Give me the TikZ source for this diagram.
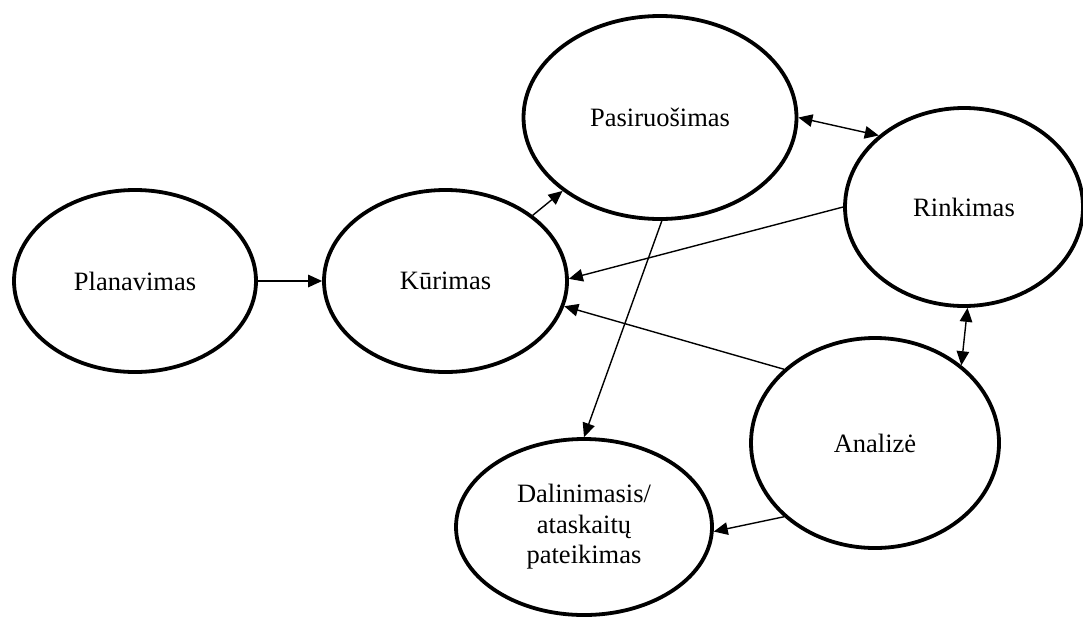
\documentclass[tikz,border=0pt]{standalone}
\usepackage{fontspec}
\setmainfont{Liberation Serif}
\usetikzlibrary{shapes.geometric,arrows.meta}
\tikzset{
  stage/.style={draw, ellipse, line width=3.8pt, inner sep=0pt, align=center,
    font=\fontsize{26.5}{30.5}\selectfont},
  conn/.style={line width=1.4pt, -{Triangle[length=14pt,width=12.5pt]}},
  biconn/.style={line width=1.4pt, {Triangle[length=14pt,width=12.5pt]}-{Triangle[length=14pt,width=12.5pt]}}
}
\begin{document}
\begin{tikzpicture}[x=1pt,y=-1pt]
\useasboundingbox (0,0) rectangle (1083,619);
\node[stage, minimum width=242pt, minimum height=182pt] (pla) at (135,281) {Planavimas};
\node[stage, minimum width=243pt, minimum height=182pt] (kur) at (445.5,281) {Kūrimas};
\node[stage, minimum width=273pt, minimum height=203pt] (pas) at (660,117.5) {Pasiruošimas};
\node[stage, minimum width=238pt, minimum height=198pt] (rin) at (964,207) {Rinkimas};
\node[stage, minimum width=248pt, minimum height=210pt] (ana) at (875,443) {Analizė};
\node[stage, minimum width=256pt, minimum height=176pt] (dal) at (584,527) {Dalinimasis/\\ataskaitų\\pateikimas};

\draw[conn] (pla.east) -- (kur.west);
\draw[conn] (kur.37) -- (pas.217);
\draw[biconn] (pas.east) -- (rin.140);
\draw[conn] (rin.west) -- (kur.1);
\draw[conn] (ana.141) -- (kur.-12.5);
\draw[conn] (pas.-89) -- (dal.north);
\draw[biconn] (rin.-88) -- (ana.42);
\draw[conn] (ana.219) -- (dal.-2);
\end{tikzpicture}
\end{document}
